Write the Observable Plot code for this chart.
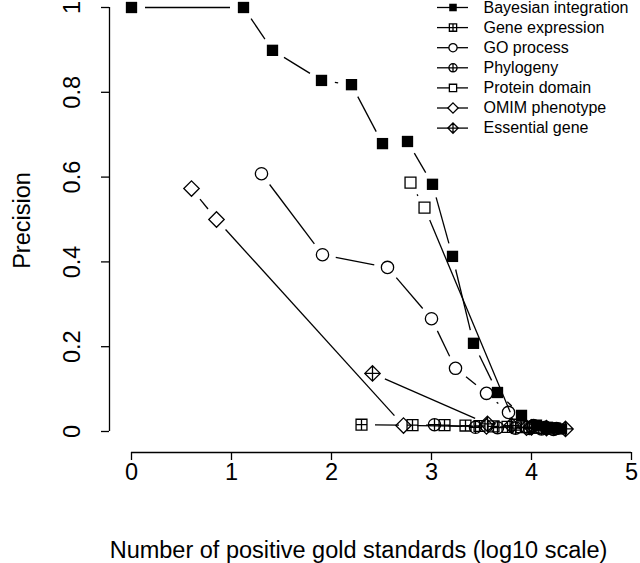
<!DOCTYPE html>
<html><head><meta charset="utf-8">
<script src="https://cdn.jsdelivr.net/npm/d3@7"></script>
<script src="https://cdn.jsdelivr.net/npm/@observablehq/plot@0.6"></script>
<style>body{margin:0;background:#fff} #chart{width:640px;height:563px}</style>
</head><body><div id="chart"></div>
<script>
// ---- data ----
const seriesNames = ["Bayesian integration","Gene expression","GO process","Phylogeny","Protein domain","OMIM phenotype","Essential gene"];
const bayesX = [0,1.12,1.41,1.90,2.20,2.51,2.76,3.01,3.21,3.42,3.66,3.90,4.05,4.16,4.24,4.30];
const bayesY = [1,1,0.899,0.828,0.818,0.679,0.684,0.583,0.413,0.208,0.092,0.038,0.015,0.010,0.008,0.006];
const geneX = [2.30,2.81,3.13,3.34,3.48,3.62,3.76,3.90,4.02,4.12];
const geneY = [0.016,0.015,0.015,0.014,0.013,0.012,0.011,0.010,0.009,0.008];
const goX = [1.30,1.91,2.56,3.00,3.24,3.55,3.77,4.02,4.14,4.25];
const goY = [0.608,0.417,0.387,0.266,0.149,0.090,0.045,0.014,0.010,0.007];
const phyloX = [3.03,3.44,3.66,3.84,3.98,4.10,4.22];
const phyloY = [0.016,0.010,0.009,0.008,0.007,0.006,0.005];
const protX = [2.79,2.93,3.84,3.98,4.08,4.18];
const protY = [0.587,0.528,0.016,0.011,0.009,0.007];
const omimX = [0.60,0.85,2.72,3.55,3.95];
const omimY = [0.573,0.500,0.014,0.012,0.009];
const essX = [2.41,3.56,3.80,4.00,4.15,4.34];
const essY = [0.137,0.018,0.014,0.010,0.008,0.006];
const xTicks = [0,1,2,3,4,5];
const yTicks = [0,0.2,0.4,0.6,0.8,1];
const xTitle = "Number of positive gold standards (log10 scale)";
const yTitle = "Precision";

// ---- layout ----
const W = 640, H = 563;
const xDomain = [0,5], xRange = [131,631];
const yDomain = [0,1], yRange = [431,7];
const invX = px => xDomain[0] + (px - xRange[0]) * (xDomain[1]-xDomain[0]) / (xRange[1]-xRange[0]);
const invY = py => yDomain[0] + (py - yRange[0]) * (yDomain[1]-yDomain[0]) / (yRange[1]-yRange[0]);
const toPxX = v => xRange[0] + (v - xDomain[0]) * (xRange[1]-xRange[0]) / (xDomain[1]-xDomain[0]);
const toPxY = v => yRange[0] + (v - yDomain[0]) * (yRange[1]-yRange[0]) / (yDomain[1]-yDomain[0]);
const GAP = 13.5, SW = 1.3, FONT = "Liberation Sans, Arial, Helvetica, sans-serif";

// ---- R-like symbols ----
const SQC = 0.88623, DMC = 1.25331;
const rad = s => Math.sqrt(s/Math.PI);
function rect(c,h){c.moveTo(-h,-h);c.lineTo(h,-h);c.lineTo(h,h);c.lineTo(-h,h);c.closePath();}
function cross(c,h){c.moveTo(-h,0);c.lineTo(h,0);c.moveTo(0,-h);c.lineTo(0,h);}
function dmd(c,d){c.moveTo(0,-d);c.lineTo(d,0);c.lineTo(0,d);c.lineTo(-d,0);c.closePath();}
function circ(c,r){c.moveTo(r,0);c.arc(0,0,r,0,2*Math.PI);c.closePath();}
const symbols = [
  {draw(c,s){rect(c,rad(s)*0.92);}},                       // pch 15 filled square
  {draw(c,s){const h=rad(s)*SQC;rect(c,h);cross(c,h);}},   // pch 12
  {draw(c,s){circ(c,rad(s));}},                            // pch 1
  {draw(c,s){const r=rad(s);circ(c,r);cross(c,r);}},       // pch 10
  {draw(c,s){rect(c,rad(s)*SQC);}},                        // pch 0
  {draw(c,s){dmd(c,rad(s)*DMC);}},                         // pch 5
  {draw(c,s){const d=rad(s)*DMC;dmd(c,d);cross(c,d);}}     // pch 9
];
const filled = [true,false,false,false,false,false,false];

const xs = [bayesX,geneX,goX,phyloX,protX,omimX,essX];
const ys = [bayesY,geneY,goY,phyloY,protY,omimY,essY];
const series = seriesNames.map((name,k)=>({name, pts: xs[k].map((x,i)=>({x, y: ys[k][i]}))}));

const marks = [];
// axes
marks.push(Plot.ruleX([invX(109)], {y1: yDomain[0], y2: yDomain[1], strokeWidth: SW}));
marks.push(Plot.axisY({ticks: yTicks, tickSize: 8, tickFormat: () => "", label: null, strokeWidth: SW}));
marks.push(Plot.text(yTicks, {x: invX(72), y: d=>d, text: d=>String(d), rotate: -90, fontSize: 23.5}));
marks.push(Plot.ruleY([invY(452)], {x1: xTicks[0], x2: xTicks[xTicks.length-1], strokeWidth: SW}));
marks.push(Plot.axisX({ticks: xTicks, tickSize: 8, tickPadding: 3, tickFormat: d=>String(d), fontSize: 23.5, label: null, strokeWidth: SW}));
marks.push(Plot.text([xTitle], {x: invX(358), y: invY(549.5), text: d=>d, fontSize: 23.5}));
marks.push(Plot.text([yTitle], {x: invX(22), y: invY(220), text: d=>d, rotate: -90, fontSize: 23.5}));

// series: gapped segments (R type="b") + points
series.forEach((s,k)=>{
  const segs = [];
  for (let i=1;i<s.pts.length;i++){
    const a=s.pts[i-1], b=s.pts[i];
    const L = Math.hypot(toPxX(b.x)-toPxX(a.x), toPxY(b.y)-toPxY(a.y));
    if (L > 2*GAP + 0.5) segs.push({x1:a.x,y1:a.y,x2:b.x,y2:b.y});
  }
  marks.push(Plot.arrow(segs, {x1:"x1",y1:"y1",x2:"x2",y2:"y2", bend:0, headLength:0, insetStart:GAP, insetEnd:GAP, stroke:"black", strokeWidth:SW, strokeLinecap:"butt"}));
  marks.push(Plot.dot(s.pts, {x:"x", y:"y", r:6.15, symbol: symbols[k], fill: filled[k] ? "black" : "none", stroke: filled[k] ? "none" : "black", strokeWidth: SW}));
});

// legend
const legY = (d,i) => invY(7 + 20.1*i);
marks.push(Plot.ruleY(seriesNames, {y: legY, x1: invX(437), x2: invX(468), strokeWidth: SW}));
seriesNames.forEach((n,k)=>{
  marks.push(Plot.dot([n], {x: invX(452.5), y: invY(7 + 20.1*k), r: 4.1, symbol: symbols[k], fill: filled[k] ? "black" : "white", stroke: filled[k] ? "none" : "black", strokeWidth: SW}));
});
marks.push(Plot.text(seriesNames, {x: invX(483), y: legY, text: d=>d, textAnchor: "start", fontSize: 16}));

const chart = Plot.plot({
  width: W, height: H,
  marginLeft: 109, marginRight: 9, marginTop: 7, marginBottom: 111,
  x: {domain: xDomain, range: xRange},
  y: {domain: yDomain, range: yRange},
  style: {fontFamily: FONT, color: "black", background: "white", overflow: "visible"},
  marks
});
document.getElementById("chart").appendChild(chart);
</script>
</body></html>
